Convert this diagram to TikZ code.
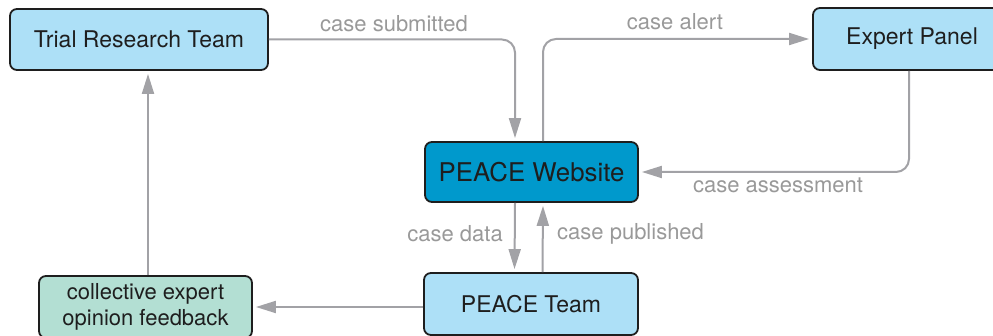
\documentclass[tikz,border=0pt]{standalone}
\usepackage{fontspec}
\setmainfont{TeX Gyre Heros}
\usetikzlibrary{arrows.meta}
\definecolor{lightbox}{HTML}{ADE0F7}
\definecolor{webbox}{HTML}{0099CC}
\definecolor{greenbox}{HTML}{B3DFD3}
\definecolor{edgegray}{HTML}{A2A2A6}
\definecolor{labelgray}{HTML}{999999}
\definecolor{textdark}{HTML}{1E1E1E}
\begin{document}
\begin{tikzpicture}[x=1pt,y=-1pt,
  boxnode/.style={draw=textdark, line width=1.8pt, rounded corners=7pt, text=textdark,
    align=center, inner sep=0pt, font=\fontsize{23}{26}\selectfont},
  conn/.style={draw=edgegray, line width=2pt, rounded corners=13pt,
    -{Triangle[length=20pt,width=12pt]}, shorten >=3pt},
  lbl/.style={text=labelgray, inner sep=0pt, font=\fontsize{22}{24}\selectfont}]
\useasboundingbox (0,0) rectangle (993,336);
\clip (0,0) rectangle (993,336);

\node[boxnode, fill=lightbox, minimum width=258pt, minimum height=61pt] (trial) at (139,39.5) {Trial Research Team};
\node[boxnode, fill=lightbox, minimum width=198pt, minimum height=62pt] (expert) at (912,39) {Expert Panel};
\node[boxnode, fill=webbox, minimum width=213pt, minimum height=60pt, font=\fontsize{25.8}{28}\selectfont] (web) at (531.5,172) {PEACE Website};
\node[boxnode, fill=lightbox, minimum width=214pt, minimum height=62pt] (team) at (531,304) {PEACE Team};
\node[boxnode, fill=greenbox, minimum width=213pt, minimum height=62pt, font=\fontsize{22}{25.5}\selectfont] (coll) at (145.5,307) {collective expert\\opinion feedback};

\draw[conn] (trial.east) -| ([xshift=-16.5pt]web.north);
\draw[conn] ([xshift=11.5pt]web.north) |- (expert.west);
\draw[conn] ([xshift=-3pt]expert.south) |- (web.east);
\draw[conn] ([xshift=-16.5pt]web.south) -- ([xshift=-16.5pt]team.north);
\draw[conn] ([xshift=11.5pt]team.north) -- ([xshift=11.5pt]web.south);
\draw[conn] (coll.east -| team.west) -- (coll.east);
\draw[conn] ([xshift=2.5pt]coll.north) -- ([xshift=2.5pt]coll.north |- trial.south);

\node[lbl] (l1) at (394,24) {case submitted};
\node[lbl] (l2) at (675,22) {case alert};
\node[lbl] (l3) at (778,185) {case assessment};
\node[lbl, anchor=east] (l4) at (503,234) {case data};
\node[lbl, anchor=west] (l5) at (557,234) {case published};
\end{tikzpicture}
\end{document}
